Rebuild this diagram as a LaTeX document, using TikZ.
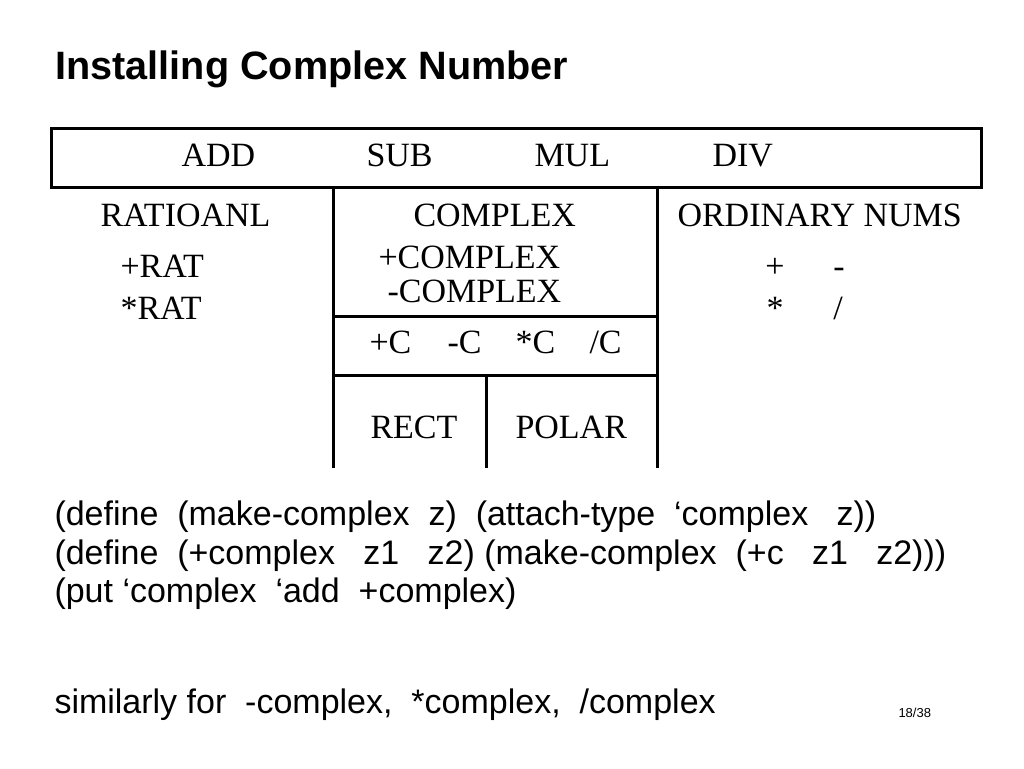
\documentclass[tikz,border=0pt]{standalone}
\usepackage{fontspec}
\setmainfont{Liberation Serif}
\setsansfont{Liberation Sans}
\usetikzlibrary{positioning}

\begin{document}
\begin{tikzpicture}[x=0.5pt, y=-0.5pt, line width=1.5pt]
    % Styles for the texts
    \tikzstyle{table text}=[inner sep=0, anchor=base west, font=\rmfamily\fontsize{17}{20}\selectfont]
    \tikzstyle{sign text}=[inner sep=0, anchor=base, font=\rmfamily\fontsize{17}{20}\selectfont]
    \tikzstyle{code text}=[inner sep=0, anchor=base west, font=\sffamily\fontsize{17}{20}\selectfont]

    \useasboundingbox (0,0) rectangle (1024,768);

    % Title
    \node[inner sep=0, anchor=base west, font=\sffamily\bfseries\fontsize{19.8}{24}\selectfont] (title) at (54,79) {Installing Complex Number};

    % Draw the top box with the generic operations
    \draw (51,128) rectangle (981,187);
    \foreach \x/\op in {180/ADD,365/SUB,533/MUL,711/DIV}
        \node[table text] (\op) at (\x,166) {\op};

    % Draw the lines of the table
    \draw (333,187) -- (333,468);
    \draw (657,187) -- (657,468);
    \draw (333,316) -- (657,316);
    \draw (333,375) -- (657,375);
    \draw (486,375) -- (486,468);

    % Rational column
    \node[table text] (rational) at (99,226) {RATIOANL};
    \node[table text] (addrat) at (119,277) {+RAT};
    \node[table text] (mulrat) at (119,319) {*RAT};

    % Complex column
    \node[table text] (complex) at (412,226) {COMPLEX};
    \node[table text] (addcomplex) at (377,268) {+COMPLEX};
    \node[table text] (subcomplex) at (386,302) {-COMPLEX};
    \foreach \x/\name/\op in {368/addc/{+C},446/subc/{-C},514/mulc/{*C},588/divc/{/C}}
        \node[table text] (\name) at (\x,353) {\op};
    \node[table text] (rect) at (369,438) {RECT};
    \node[table text] (polar) at (514,438) {POLAR};

    % Ordinary numbers column
    \node[table text] (ordinary) at (676,226) {ORDINARY NUMS};
    \node[sign text] (plus) at (775,277) {+};
    \node[sign text] (minus) at (839,277) {-};
    \node[sign text] (times) at (775,319) {*};
    \node[sign text] (divide) at (838,319) {/};

    % Code below the table
    \node[code text] (line1) at (53,525) {(define\ \ (make-complex\ \ z)\ \ (attach-type\ \ ‘complex\ \ \ z))};
    \node[code text] (line2) at (53,564) {(define\ \ (+complex\ \ \ z1\ \ \ z2)\ (make-complex\ \ (+c\ \ \ z1\ \ \ z2)))};
    \node[code text] (line3) at (53,602) {(put\ ‘complex\ \ ‘add\ \ +complex)};
    \node[code text] (line4) at (53,713) {similarly for\ \ -complex,\ \ *complex,\ \ /complex};

    % Page number
    \node[inner sep=0, anchor=base west, font=\sffamily\fontsize{6.5}{8}\selectfont] (page) at (897,717) {18/38};
\end{tikzpicture}
\end{document}
